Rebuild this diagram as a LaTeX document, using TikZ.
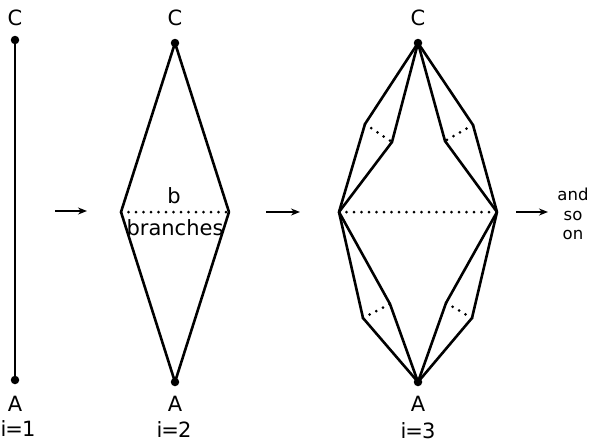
\documentclass[tikz,border=0pt]{standalone}
\usepackage{fontspec}
\setmainfont{DejaVu Sans}
\usetikzlibrary{arrows.meta}
\newfontfamily\labfont{DejaVu Sans}
\tikzset{
  pt/.style={circle,fill=black,inner sep=0pt,minimum size=8.5pt},
  lbl/.style={font=\labfont\fontsize{21}{23}\selectfont,inner sep=0pt},
  edge/.style={line width=2.6pt,line join=round},
  dotline/.style={line width=3pt,dash pattern=on 0pt off 7.5pt,line cap=round},
  arr/.style={line width=2.4pt,-{Stealth[length=9pt,width=7pt]}}
}
\begin{document}
\begin{tikzpicture}[x=1pt,y=-1pt]
\useasboundingbox (0,0) rectangle (590,445);
% panel 1
\node[pt] (C1) at (15,40) {};
\node[pt] (A1) at (15,380) {};
\draw[edge] (C1.center) -- (A1.center);
\node[lbl] (lC1) at (15,18) {C};
\node[lbl] (lA1) at (15,404) {A};
\node[lbl] (li1) at (18,429) {i\kern-1pt=\kern-1pt1};
% arrow 1
\coordinate (a1s) at (55,211);
\coordinate (a1e) at (87,211);
\draw[arr] (a1s) -- (a1e);
% panel 2
\node[pt] (C2) at (175,43) {};
\node[pt] (A2) at (175,382) {};
\coordinate (L2) at (121,212);
\coordinate (R2) at (229,212);
\draw[edge] (C2.center) -- (L2) -- (A2.center) -- (R2) -- cycle;
\draw[dotline] (L2) -- (R2);
\node[lbl] (lb) at (174,196) {b};
\node[lbl] (lbr) at (175,228) {branches};
\node[lbl] (lC2) at (175,18) {C};
\node[lbl] (lA2) at (175,404) {A};
\node[lbl] (li2) at (174,430) {i\kern-1pt=\kern-1pt2};
% arrow 2
\coordinate (a2s) at (266,212);
\coordinate (a2e) at (300,212);
\draw[arr] (a2s) -- (a2e);
% panel 3
\node[pt] (C3) at (418,43) {};
\node[pt] (A3) at (418,382) {};
\coordinate (L3) at (339,212);
\coordinate (R3) at (497,212);
\coordinate (ulo) at (365,124);
\coordinate (uli) at (392,142);
\coordinate (uro) at (473,125);
\coordinate (uri) at (445,141);
\coordinate (llo) at (363,318);
\coordinate (lli) at (390,304);
\coordinate (lro) at (472,318);
\coordinate (lri) at (446,303);
\draw[edge] (C3.center) -- (ulo) -- (L3);
\draw[edge] (C3.center) -- (uli) -- (L3);
\draw[edge] (C3.center) -- (uro) -- (R3);
\draw[edge] (C3.center) -- (uri) -- (R3);
\draw[edge] (A3.center) -- (llo) -- (L3);
\draw[edge] (A3.center) -- (lli) -- (L3);
\draw[edge] (A3.center) -- (lro) -- (R3);
\draw[edge] (A3.center) -- (lri) -- (R3);
\draw[dotline] (L3) -- (R3);
\draw[dotline] (ulo) -- (uli);
\draw[dotline] (uro) -- (uri);
\draw[dotline] (llo) -- (lli);
\draw[dotline] (lro) -- (lri);
\node[lbl] (lC3) at (418,18) {C};
\node[lbl] (lA3) at (418,404) {A};
\node[lbl] (li3) at (418,431) {i\kern-1pt=\kern-1pt3};
% arrow 3
\coordinate (a3s) at (516,212);
\coordinate (a3e) at (548,212);
\draw[arr] (a3s) -- (a3e);
\node[lbl,align=center,font=\labfont\fontsize{16.5}{19.5}\selectfont] (aso) at (573,214) {and\\so\\on};
\end{tikzpicture}
\end{document}
